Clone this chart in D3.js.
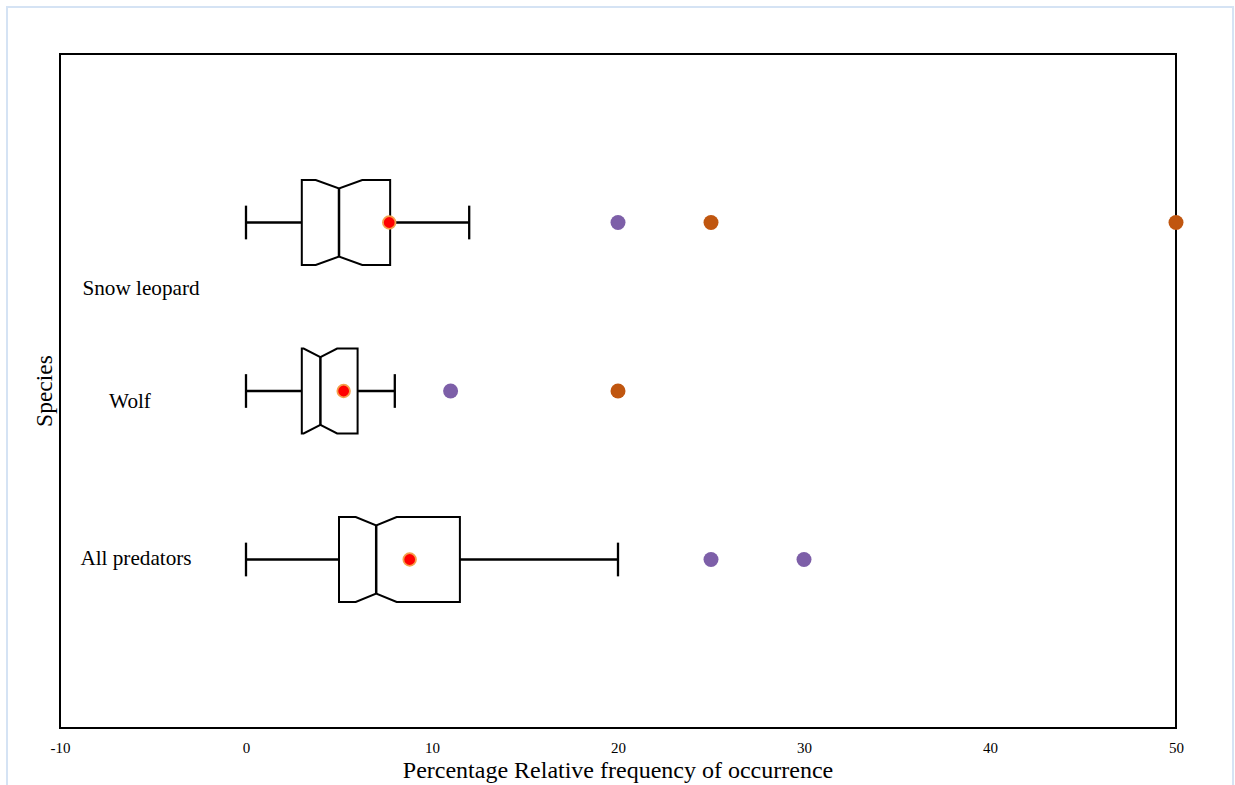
<!DOCTYPE html>
<html>
<head>
<meta charset="utf-8">
<script src="https://cdn.jsdelivr.net/npm/d3@7"></script>
<style>
  html, body { margin: 0; padding: 0; background: #fff; }
  svg { display: block; }
  text { font-family: "Liberation Serif", "Times New Roman", serif; fill: #000; }
</style>
</head>
<body>
<svg id="chart" width="1235" height="785"></svg>
<script>
// ---- data ----
const categories = ["Snow leopard", "Wolf", "All predators"];
const whiskerLow = [0, 0, 0];
const q1 = [3, 3, 5];
const median = [5, 4, 7];
const q3 = [7.75, 6, 11.5];
const whiskerHigh = [12, 8, 20];
const notchLow = [3.75, 3.1, 5.9];
const notchHigh = [6.25, 4.9, 8.1];
const means = [7.7, 5.25, 8.8];
const mildOutliers = [[20], [11], [25, 30]];
const extremeOutliers = [[25, 50], [20], []];
const xTicks = [-10, 0, 10, 20, 30, 40, 50];
const xTitle = "Percentage Relative frequency of occurrence";
const yTitle = "Species";

// ---- layout ----
const svg = d3.select("#chart");
const frame = { left: 60, right: 1176, top: 54, bottom: 728 };

// outer light border
svg.append("path")
  .attr("d", "M7,790 L7,7 L1233,7 L1233,790")
  .attr("fill", "none").attr("stroke", "#d5e3f4").attr("stroke-width", 2);

const x = d3.scaleLinear().domain([-10, 50]).range([frame.left, frame.right]);
const y = d3.scalePoint().domain(categories).range([frame.top, frame.bottom]).padding(1);
const step = y.step();
const halfH = step * 0.252;
const notchDepth = halfH * 0.2;
const capHalf = step * 0.1;

// frame
svg.append("rect")
  .attr("x", frame.left).attr("y", frame.top)
  .attr("width", frame.right - frame.left).attr("height", frame.bottom - frame.top)
  .attr("fill", "none").attr("stroke", "#000").attr("stroke-width", 2);

// x axis ticks labels (no tick marks)
const xAxis = d3.axisBottom(x).tickValues(xTicks).tickSize(0).tickPadding(0)
  .tickFormat(d => String(d));
const gx = svg.append("g").attr("transform", `translate(0,${frame.bottom})`).call(xAxis);
gx.select(".domain").remove();
gx.selectAll("text")
  .attr("font-family", "Liberation Serif, serif")
  .attr("font-size", 15)
  .attr("dy", null)
  .attr("y", 25);

svg.append("text")
  .attr("x", (frame.left + frame.right) / 2) .attr("y", 778)
  .attr("text-anchor", "middle").attr("font-size", 24)
  .text(xTitle);

svg.append("text")
  .attr("transform", `translate(52,${(frame.top + frame.bottom) / 2}) rotate(-90)`)
  .attr("text-anchor", "middle").attr("font-size", 23.5)
  .text(yTitle);

// category labels (placed as in the reference)
const labelPos = [ { cx: 141, dy: 72 }, { cx: 130, dy: 17 }, { cx: 136, dy: 5 } ];
categories.forEach((c, i) => {
  svg.append("text")
    .attr("x", labelPos[i].cx).attr("y", y(c) + labelPos[i].dy)
    .attr("text-anchor", "middle").attr("font-size", 21.2)
    .text(c);
});

const g = svg.append("g");
categories.forEach((c, i) => {
  const cy = y(c);
  const line = (x1, y1, x2, y2, w) => g.append("line")
    .attr("x1", x1).attr("y1", y1).attr("x2", x2).attr("y2", y2)
    .attr("stroke", "#000").attr("stroke-width", w);
  // whiskers
  line(x(whiskerLow[i]), cy, x(q1[i]), cy, 2.3);
  line(x(q3[i]), cy, x(whiskerHigh[i]), cy, 2.3);
  line(x(whiskerLow[i]), cy - capHalf, x(whiskerLow[i]), cy + capHalf, 2.3);
  line(x(whiskerHigh[i]), cy - capHalf, x(whiskerHigh[i]), cy + capHalf, 2.3);
  // notched box
  const nl = Math.max(notchLow[i], q1[i]);
  const nh = Math.min(notchHigh[i], q3[i]);
  const xa = x(q1[i]), xb = x(nl), xm = x(median[i]), xc = x(nh), xd = x(q3[i]);
  const t = cy - halfH, b = cy + halfH;
  const pts = [
    [xa, t], [xb, t], [xm, t + notchDepth], [xc, t], [xd, t],
    [xd, b], [xc, b], [xm, b - notchDepth], [xb, b], [xa, b]
  ];
  g.append("path")
    .attr("d", d3.line()(pts) + "Z")
    .attr("fill", "#fff").attr("stroke", "#000").attr("stroke-width", 2)
    .attr("stroke-linejoin", "miter");
  // median
  line(xm, t + notchDepth, xm, b - notchDepth, 2.5);
  // outliers
  mildOutliers[i].forEach(v => g.append("circle")
    .attr("cx", x(v)).attr("cy", cy).attr("r", 7.5).attr("fill", "#7d5fa8"));
  extremeOutliers[i].forEach(v => g.append("circle")
    .attr("cx", x(v)).attr("cy", cy).attr("r", 7.5).attr("fill", "#c0560f"));
  // mean
  g.append("circle")
    .attr("cx", x(means[i])).attr("cy", cy).attr("r", 6.3)
    .attr("fill", "#ff0000").attr("stroke", "#f5a04c").attr("stroke-width", 1.8);
});
</script>
</body>
</html>
